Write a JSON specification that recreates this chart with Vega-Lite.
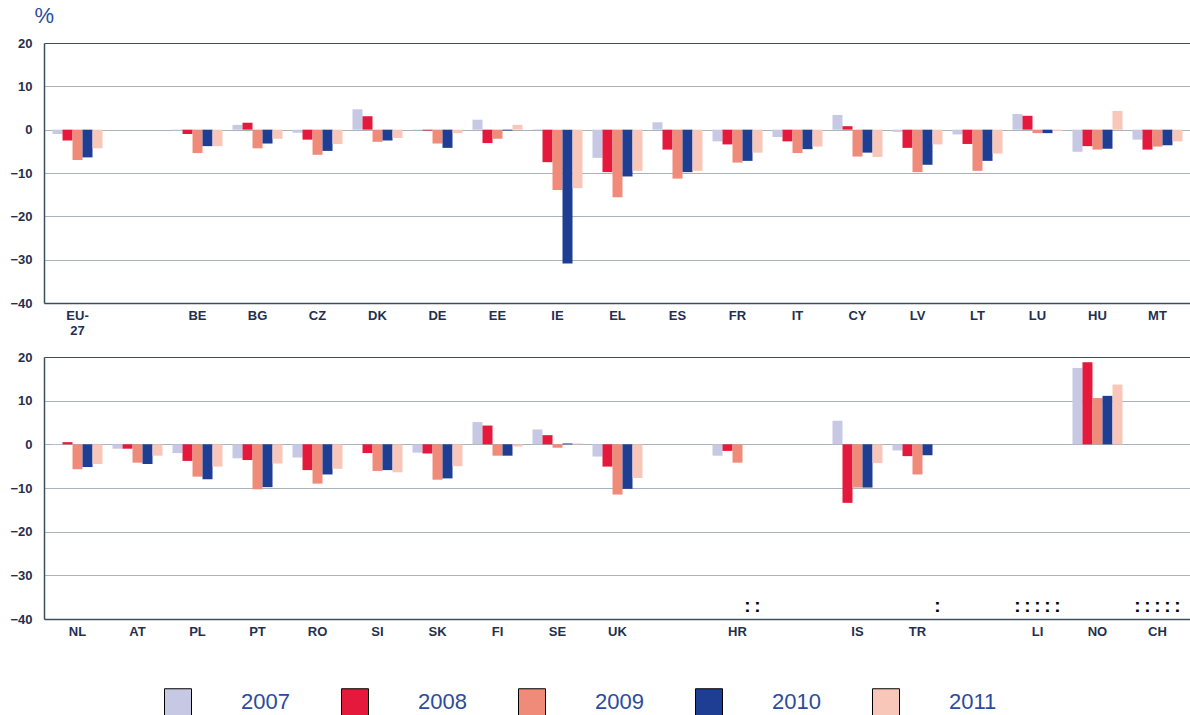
{
  "$schema": "https://vega.github.io/schema/vega-lite/v6.json",
  "background": "white",
  "padding": {"left": 9, "top": 4, "right": 0, "bottom": 0},
  "autosize": {"type": "pad"},
  "datasets": {
    "d": [
      {"p":1,"c":"EU-27","y":"2007","v":-1.0},{"p":1,"c":"EU-27","y":"2008","v":-2.5},{"p":1,"c":"EU-27","y":"2009","v":-7.0},{"p":1,"c":"EU-27","y":"2010","v":-6.4},{"p":1,"c":"EU-27","y":"2011","v":-4.3},
      {"p":1,"c":"BE","y":"2007","v":-0.2},{"p":1,"c":"BE","y":"2008","v":-1.0},{"p":1,"c":"BE","y":"2009","v":-5.4},{"p":1,"c":"BE","y":"2010","v":-3.8},{"p":1,"c":"BE","y":"2011","v":-3.8},
      {"p":1,"c":"BG","y":"2007","v":1.1},{"p":1,"c":"BG","y":"2008","v":1.6},{"p":1,"c":"BG","y":"2009","v":-4.3},{"p":1,"c":"BG","y":"2010","v":-3.2},{"p":1,"c":"BG","y":"2011","v":-2.1},
      {"p":1,"c":"CZ","y":"2007","v":-0.7},{"p":1,"c":"CZ","y":"2008","v":-2.3},{"p":1,"c":"CZ","y":"2009","v":-5.8},{"p":1,"c":"CZ","y":"2010","v":-4.9},{"p":1,"c":"CZ","y":"2011","v":-3.3},
      {"p":1,"c":"DK","y":"2007","v":4.7},{"p":1,"c":"DK","y":"2008","v":3.1},{"p":1,"c":"DK","y":"2009","v":-2.8},{"p":1,"c":"DK","y":"2010","v":-2.5},{"p":1,"c":"DK","y":"2011","v":-1.9},
      {"p":1,"c":"DE","y":"2007","v":-0.1},{"p":1,"c":"DE","y":"2008","v":-0.2},{"p":1,"c":"DE","y":"2009","v":-3.2},{"p":1,"c":"DE","y":"2010","v":-4.2},{"p":1,"c":"DE","y":"2011","v":-0.8},
      {"p":1,"c":"EE","y":"2007","v":2.3},{"p":1,"c":"EE","y":"2008","v":-3.1},{"p":1,"c":"EE","y":"2009","v":-2.1},{"p":1,"c":"EE","y":"2010","v":-0.2},{"p":1,"c":"EE","y":"2011","v":1.1},
      {"p":1,"c":"IE","y":"2007","v":0.1},{"p":1,"c":"IE","y":"2008","v":-7.5},{"p":1,"c":"IE","y":"2009","v":-13.9},{"p":1,"c":"IE","y":"2010","v":-30.9},{"p":1,"c":"IE","y":"2011","v":-13.5},
      {"p":1,"c":"EL","y":"2007","v":-6.5},{"p":1,"c":"EL","y":"2008","v":-9.8},{"p":1,"c":"EL","y":"2009","v":-15.6},{"p":1,"c":"EL","y":"2010","v":-10.8},{"p":1,"c":"EL","y":"2011","v":-9.5},
      {"p":1,"c":"ES","y":"2007","v":1.7},{"p":1,"c":"ES","y":"2008","v":-4.6},{"p":1,"c":"ES","y":"2009","v":-11.3},{"p":1,"c":"ES","y":"2010","v":-9.8},{"p":1,"c":"ES","y":"2011","v":-9.5},
      {"p":1,"c":"FR","y":"2007","v":-2.7},{"p":1,"c":"FR","y":"2008","v":-3.4},{"p":1,"c":"FR","y":"2009","v":-7.6},{"p":1,"c":"FR","y":"2010","v":-7.2},{"p":1,"c":"FR","y":"2011","v":-5.3},
      {"p":1,"c":"IT","y":"2007","v":-1.7},{"p":1,"c":"IT","y":"2008","v":-2.7},{"p":1,"c":"IT","y":"2009","v":-5.4},{"p":1,"c":"IT","y":"2010","v":-4.5},{"p":1,"c":"IT","y":"2011","v":-3.9},
      {"p":1,"c":"CY","y":"2007","v":3.4},{"p":1,"c":"CY","y":"2008","v":0.8},{"p":1,"c":"CY","y":"2009","v":-6.2},{"p":1,"c":"CY","y":"2010","v":-5.3},{"p":1,"c":"CY","y":"2011","v":-6.3},
      {"p":1,"c":"LV","y":"2007","v":-0.5},{"p":1,"c":"LV","y":"2008","v":-4.2},{"p":1,"c":"LV","y":"2009","v":-9.8},{"p":1,"c":"LV","y":"2010","v":-8.1},{"p":1,"c":"LV","y":"2011","v":-3.4},
      {"p":1,"c":"LT","y":"2007","v":-1.1},{"p":1,"c":"LT","y":"2008","v":-3.3},{"p":1,"c":"LT","y":"2009","v":-9.5},{"p":1,"c":"LT","y":"2010","v":-7.2},{"p":1,"c":"LT","y":"2011","v":-5.5},
      {"p":1,"c":"LU","y":"2007","v":3.6},{"p":1,"c":"LU","y":"2008","v":3.2},{"p":1,"c":"LU","y":"2009","v":-0.8},{"p":1,"c":"LU","y":"2010","v":-0.8},{"p":1,"c":"LU","y":"2011","v":-0.3},
      {"p":1,"c":"HU","y":"2007","v":-5.1},{"p":1,"c":"HU","y":"2008","v":-3.8},{"p":1,"c":"HU","y":"2009","v":-4.6},{"p":1,"c":"HU","y":"2010","v":-4.4},{"p":1,"c":"HU","y":"2011","v":4.3},
      {"p":1,"c":"MT","y":"2007","v":-2.3},{"p":1,"c":"MT","y":"2008","v":-4.6},{"p":1,"c":"MT","y":"2009","v":-3.9},{"p":1,"c":"MT","y":"2010","v":-3.6},{"p":1,"c":"MT","y":"2011","v":-2.7},
      {"p":2,"c":"NL","y":"2007","v":-0.1},{"p":2,"c":"NL","y":"2008","v":0.5},{"p":2,"c":"NL","y":"2009","v":-5.7},{"p":2,"c":"NL","y":"2010","v":-5.2},{"p":2,"c":"NL","y":"2011","v":-4.5},
      {"p":2,"c":"AT","y":"2007","v":-1.0},{"p":2,"c":"AT","y":"2008","v":-1.0},{"p":2,"c":"AT","y":"2009","v":-4.2},{"p":2,"c":"AT","y":"2010","v":-4.5},{"p":2,"c":"AT","y":"2011","v":-2.6},
      {"p":2,"c":"PL","y":"2007","v":-2.0},{"p":2,"c":"PL","y":"2008","v":-3.8},{"p":2,"c":"PL","y":"2009","v":-7.4},{"p":2,"c":"PL","y":"2010","v":-8.0},{"p":2,"c":"PL","y":"2011","v":-5.1},
      {"p":2,"c":"PT","y":"2007","v":-3.2},{"p":2,"c":"PT","y":"2008","v":-3.6},{"p":2,"c":"PT","y":"2009","v":-10.3},{"p":2,"c":"PT","y":"2010","v":-9.8},{"p":2,"c":"PT","y":"2011","v":-4.4},
      {"p":2,"c":"RO","y":"2007","v":-3.0},{"p":2,"c":"RO","y":"2008","v":-5.9},{"p":2,"c":"RO","y":"2009","v":-9.0},{"p":2,"c":"RO","y":"2010","v":-6.9},{"p":2,"c":"RO","y":"2011","v":-5.6},
      {"p":2,"c":"SI","y":"2007","v":0.0},{"p":2,"c":"SI","y":"2008","v":-2.0},{"p":2,"c":"SI","y":"2009","v":-6.1},{"p":2,"c":"SI","y":"2010","v":-5.9},{"p":2,"c":"SI","y":"2011","v":-6.4},
      {"p":2,"c":"SK","y":"2007","v":-1.9},{"p":2,"c":"SK","y":"2008","v":-2.1},{"p":2,"c":"SK","y":"2009","v":-8.1},{"p":2,"c":"SK","y":"2010","v":-7.8},{"p":2,"c":"SK","y":"2011","v":-5.0},
      {"p":2,"c":"FI","y":"2007","v":5.1},{"p":2,"c":"FI","y":"2008","v":4.3},{"p":2,"c":"FI","y":"2009","v":-2.6},{"p":2,"c":"FI","y":"2010","v":-2.6},{"p":2,"c":"FI","y":"2011","v":-0.5},
      {"p":2,"c":"SE","y":"2007","v":3.4},{"p":2,"c":"SE","y":"2008","v":2.1},{"p":2,"c":"SE","y":"2009","v":-0.8},{"p":2,"c":"SE","y":"2010","v":0.2},{"p":2,"c":"SE","y":"2011","v":0.2},
      {"p":2,"c":"UK","y":"2007","v":-2.8},{"p":2,"c":"UK","y":"2008","v":-5.1},{"p":2,"c":"UK","y":"2009","v":-11.5},{"p":2,"c":"UK","y":"2010","v":-10.2},{"p":2,"c":"UK","y":"2011","v":-7.7},
      {"p":2,"c":"HR","y":"2007","v":-2.6},{"p":2,"c":"HR","y":"2008","v":-1.5},{"p":2,"c":"HR","y":"2009","v":-4.2},{"p":2,"c":"HR","y":"2010","v":null},{"p":2,"c":"HR","y":"2011","v":null},
      {"p":2,"c":"IS","y":"2007","v":5.4},{"p":2,"c":"IS","y":"2008","v":-13.4},{"p":2,"c":"IS","y":"2009","v":-9.9},{"p":2,"c":"IS","y":"2010","v":-9.9},{"p":2,"c":"IS","y":"2011","v":-4.3},
      {"p":2,"c":"TR","y":"2007","v":-1.4},{"p":2,"c":"TR","y":"2008","v":-2.7},{"p":2,"c":"TR","y":"2009","v":-6.9},{"p":2,"c":"TR","y":"2010","v":-2.5},{"p":2,"c":"TR","y":"2011","v":null},
      {"p":2,"c":"LI","y":"2007","v":null},{"p":2,"c":"LI","y":"2008","v":null},{"p":2,"c":"LI","y":"2009","v":null},{"p":2,"c":"LI","y":"2010","v":null},{"p":2,"c":"LI","y":"2011","v":null},
      {"p":2,"c":"NO","y":"2007","v":17.5},{"p":2,"c":"NO","y":"2008","v":18.8},{"p":2,"c":"NO","y":"2009","v":10.6},{"p":2,"c":"NO","y":"2010","v":11.1},{"p":2,"c":"NO","y":"2011","v":13.7},
      {"p":2,"c":"CH","y":"2007","v":null},{"p":2,"c":"CH","y":"2008","v":null},{"p":2,"c":"CH","y":"2009","v":null},{"p":2,"c":"CH","y":"2010","v":null},{"p":2,"c":"CH","y":"2011","v":null}
    ]
  },
  "bounds": "flush",
  "spacing": 54,
  "vconcat": [
    {
      "width": 1147,
      "height": 260,
      "data": {"name": "d"},
      "transform": [{"filter": "datum.p == 1"}],
      "encoding": {
        "x": {
          "field": "c", "type": "nominal", "sort": null,
          "scale": {"domain": ["EU-27","gap1","BE","BG","CZ","DK","DE","EE","IE","EL","ES","FR","IT","CY","LV","LT","LU","HU","MT"], "paddingInner": 0.1667, "paddingOuter": 0.142},
          "axis": {"title": null, "labelAngle": 0, "labelPadding": 6, "labelExpr": "indexof(datum.value, 'gap') == 0 ? '' : (datum.value == 'EU-27' ? ['EU-', '27'] : datum.value)"}
        },
        "xOffset": {"field": "y", "type": "nominal", "scale": {"domain": ["2007","2008","2009","2010","2011"], "paddingInner": 0, "paddingOuter": 0}}
      },
      "layer": [
        {
          "transform": [{"filter": "isValid(datum.v)"}],
          "mark": {"type": "bar"},
          "encoding": {
            "y": {"field": "v", "type": "quantitative", "scale": {"domain": [-40, 20], "nice": false},
              "axis": {"values": [-40,-30,-20,-10,0,10,20], "gridColor": {"condition": {"test": "datum.value === 20", "value": "#3d4f5f"}, "value": "#a8b3bb"}, "title": "%", "titleAngle": 0, "titleAlign": "left", "titleBaseline": "alphabetic", "titleX": -10, "titleY": -21, "titleFontSize": 22, "titleFontWeight": "normal", "titleColor": "#2b4c9e", "titleFont": "Liberation Sans"}},
            "color": {"field": "y", "type": "nominal", "title": null,
              "scale": {"domain": ["2007","2008","2009","2010","2011"], "range": ["#c7c8e4","#e5193b","#ef8b78","#1e3e94","#f8c7b9"]}}
          }
        },
        {
          "transform": [{"filter": "!isValid(datum.v)"}],
          "mark": {"type": "text", "fontWeight": "bold", "fontSize": 19, "color": "#000000", "baseline": "middle", "align": "center"},
          "encoding": {"y": {"datum": -37, "type": "quantitative"}, "text": {"value": ":"}}
        }
      ]
    },
    {
      "width": 1147,
      "height": 262,
      "data": {"name": "d"},
      "transform": [{"filter": "datum.p == 2"}],
      "encoding": {
        "x": {
          "field": "c", "type": "nominal", "sort": null,
          "scale": {"domain": ["NL","AT","PL","PT","RO","SI","SK","FI","SE","UK","gap2","HR","gap3","IS","TR","gap4","LI","NO","CH"], "paddingInner": 0.1667, "paddingOuter": 0.142},
          "axis": {"title": null, "labelAngle": 0, "labelPadding": 6, "labelExpr": "indexof(datum.value, 'gap') == 0 ? '' : datum.value"}
        },
        "xOffset": {"field": "y", "type": "nominal", "scale": {"domain": ["2007","2008","2009","2010","2011"], "paddingInner": 0, "paddingOuter": 0}}
      },
      "layer": [
        {
          "transform": [{"filter": "isValid(datum.v)"}],
          "mark": {"type": "bar"},
          "encoding": {
            "y": {"field": "v", "type": "quantitative", "scale": {"domain": [-40, 20], "nice": false},
              "axis": {"values": [-40,-30,-20,-10,0,10,20], "gridColor": {"condition": {"test": "datum.value === 20", "value": "#3d4f5f"}, "value": "#a8b3bb"}, "title": null}},
            "color": {"field": "y", "type": "nominal", "title": null,
              "scale": {"domain": ["2007","2008","2009","2010","2011"], "range": ["#c7c8e4","#e5193b","#ef8b78","#1e3e94","#f8c7b9"]}}
          }
        },
        {
          "transform": [{"filter": "!isValid(datum.v)"}],
          "mark": {"type": "text", "fontWeight": "bold", "fontSize": 19, "color": "#000000", "baseline": "middle", "align": "center"},
          "encoding": {"y": {"datum": -37, "type": "quantitative"}, "text": {"value": ":"}}
        }
      ]
    }
  ],
  "config": {
    "view": {"stroke": null},
    "axis": {
      "labelFont": "Liberation Sans Narrow, Liberation Sans, sans-serif",
      "labelFontWeight": "bold",
      "labelFontSize": 13,
      "labelColor": "#1f3050",
      "domainColor": "#3d4f5f",
      "domainWidth": 1.5,
      "gridColor": "#a8b3bb",
      "gridWidth": 1.2,
      "ticks": false
    },
    "axisY": {"labelPadding": 12, "grid": true},
    "axisX": {"grid": false},
    "legend": {
      "orient": "none",
      "legendX": 120,
      "legendY": 645,
      "direction": "horizontal",
      "symbolType": "square",
      "symbolSize": 729,
      "symbolStrokeColor": "#000000",
      "symbolStrokeWidth": 1,
      "labelFont": "Liberation Sans Narrow, Liberation Sans, sans-serif",
      "labelFontSize": 22,
      "labelColor": "#2b4c9e",
      "labelOffset": 49,
      "columnPadding": 49,
      "title": null
    }
  }
}
